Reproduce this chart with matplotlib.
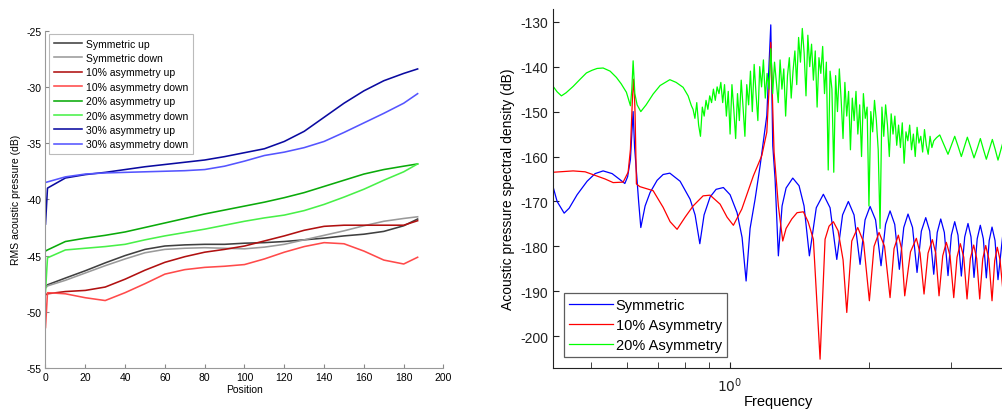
import numpy as np
import matplotlib
matplotlib.use('Agg')
from matplotlib import pyplot as plt
from matplotlib.ticker import FixedLocator, NullFormatter, FixedFormatter

plt.rcParams['font.family'] = ['Liberation Sans', 'DejaVu Sans']
plt.rcParams['axes.unicode_minus'] = False

# ---- left panel: RMS pressure vs position ----
position = [0, 1, 10, 20, 30, 40, 50, 60, 70, 80, 90, 100, 110, 120, 130, 140, 150, 160, 170, 180, 187]

sym_up = [-47.8, -47.6, -47.0, -46.35, -45.65, -45.0, -44.45, -44.15, -44.05, -44.0, -44.0,
          -43.9, -43.85, -43.75, -43.6, -43.45, -43.25, -43.1, -42.85, -42.35, -41.75]
sym_down = [-47.9, -47.7, -47.2, -46.55, -45.9, -45.3, -44.75, -44.45, -44.35, -44.3, -44.35,
            -44.4, -44.25, -44.0, -43.6, -43.2, -42.8, -42.35, -41.95, -41.7, -41.55]
asym10_up = [-48.5, -48.4, -48.2, -48.1, -47.8, -47.1, -46.3, -45.6, -45.1, -44.7, -44.45,
             -44.15, -43.7, -43.25, -42.75, -42.4, -42.3, -42.3, -42.3, -42.3, -41.9]
asym10_down = [-51.4, -48.3, -48.4, -48.75, -49.0, -48.3, -47.5, -46.65, -46.25, -46.05, -45.95,
               -45.8, -45.3, -44.7, -44.2, -43.85, -43.95, -44.6, -45.4, -45.75, -45.15]
asym20_up = [-44.6, -44.5, -43.75, -43.45, -43.2, -42.9, -42.5, -42.1, -41.7, -41.3, -40.95,
             -40.6, -40.25, -39.85, -39.4, -38.85, -38.3, -37.75, -37.35, -37.05, -36.85]
asym20_down = [-48.2, -45.2, -44.5, -44.35, -44.2, -44.0, -43.6, -43.25, -42.95, -42.65, -42.3,
               -41.95, -41.65, -41.4, -41.0, -40.45, -39.8, -39.1, -38.3, -37.55, -36.85]
asym30_up = [-42.2, -39.0, -38.1, -37.8, -37.6, -37.35, -37.1, -36.9, -36.7, -36.5, -36.2,
             -35.85, -35.5, -34.85, -33.95, -32.7, -31.45, -30.35, -29.45, -28.8, -28.4]
asym30_down = [-38.5, -38.45, -38.0, -37.75, -37.65, -37.6, -37.55, -37.5, -37.45, -37.35, -37.05,
               -36.6, -36.1, -35.8, -35.4, -34.85, -34.05, -33.2, -32.35, -31.45, -30.6]

left_labels = ['Symmetric up', 'Symmetric down', '10% asymmetry up', '10% asymmetry down',
               '20% asymmetry up', '20% asymmetry down', '30% asymmetry up', '30% asymmetry down']
left_colors = ['#404040', '#9a9a9a', '#b01010', '#ff4a4a', '#0aaa0a', '#48f048', '#0a0aa0', '#5555ff']

# ---- right panel: spectral density, x given as log10(frequency) ----
sym_logf = [-0.3823, -0.3737, -0.3585, -0.3477, -0.3305, -0.3089, -0.2916, -0.2743, -0.2549, -0.2397,
            -0.2274, -0.2214, -0.2153, -0.2123, -0.2095, -0.2063, -0.2019, -0.1976, -0.1929, -0.1836,
            -0.1728, -0.1577, -0.1447, -0.1302, -0.1080, -0.0864, -0.0756, -0.0654, -0.0562, -0.0432,
            -0.0302, -0.0145, 0.0, 0.0151, 0.0259, 0.0346, 0.0432, 0.0540, 0.0648, 0.0793,
            0.0879, 0.0922, 0.0972, 0.1043, 0.1123, 0.1210, 0.1354, 0.1490, 0.1598, 0.1713,
            0.1862, 0.2015, 0.2160, 0.2305, 0.2430, 0.2555, 0.2678, 0.2808, 0.2916, 0.3024,
            0.3143, 0.3261, 0.3359, 0.3456, 0.3557, 0.3657, 0.3752, 0.3844, 0.3942, 0.4039,
            0.4132, 0.4227, 0.4313, 0.4400, 0.4475, 0.4551, 0.4629, 0.4708, 0.4780, 0.4853,
            0.4924, 0.4996, 0.5069, 0.5140, 0.5205, 0.5270, 0.5339, 0.5406, 0.5471, 0.5536,
            0.5598, 0.5659, 0.5724, 0.5788, 0.5896]
sym_db = [-166.8, -170.0, -172.6, -171.5, -168.5, -165.5, -163.8, -163.2, -163.8, -165.0,
          -166.0, -164.5, -160.6, -155.0, -150.0, -158.0, -164.0, -170.0, -175.8, -171.0,
          -168.0, -165.3, -164.0, -163.7, -165.5, -169.5, -173.0, -179.4, -173.0, -169.0,
          -167.3, -166.9, -168.5, -172.5, -178.0, -187.7, -176.0, -169.5, -162.1, -150.9,
          -130.7, -157.6, -165.0, -182.1, -171.0, -167.0, -164.8, -166.5, -171.0, -182.1,
          -171.4, -168.4, -171.4, -182.9, -173.0, -170.0, -173.0, -184.0, -174.1, -171.1,
          -174.1, -184.3, -175.1, -172.1, -175.1, -185.1, -175.8, -172.8, -175.8, -185.8,
          -176.6, -173.6, -176.6, -186.2, -176.9, -173.9, -176.9, -186.5, -177.5, -174.5,
          -177.5, -186.6, -177.9, -174.9, -177.9, -186.9, -178.3, -175.3, -178.3, -187.0,
          -178.7, -175.7, -178.7, -187.4, -177.0]

a10_logf = [-0.3823, -0.3391, -0.3132, -0.2888, -0.2700, -0.2527, -0.2311, -0.2203, -0.2153, -0.2110,
            -0.2088, -0.2067, -0.2052, -0.2024, -0.1950, -0.1663, -0.1447, -0.1296, -0.1145, -0.0972,
            -0.0799, -0.0583, -0.0432, -0.0216, -0.0065, 0.0071, 0.0253, 0.0503, 0.0685, 0.0793,
            0.0849, 0.0879, 0.0922, 0.0950, 0.1043, 0.1138, 0.1210, 0.1333, 0.1447, 0.1583,
            0.1685, 0.1799, 0.1944, 0.2052, 0.2138, 0.2231, 0.2333, 0.2441, 0.2521, 0.2629,
            0.2758, 0.2883, 0.3009, 0.3110, 0.3218, 0.3337, 0.3456, 0.3542, 0.3635, 0.3704,
            0.3773, 0.3898, 0.4024, 0.4104, 0.4190, 0.4277, 0.4370, 0.4443, 0.4514, 0.4594,
            0.4672, 0.4752, 0.4832, 0.4903, 0.4974, 0.5048, 0.5119, 0.5190, 0.5263, 0.5328,
            0.5393, 0.5458, 0.5523, 0.5590, 0.5659, 0.5717, 0.5773, 0.5832, 0.5896]
a10_db = [-163.5, -163.2, -163.4, -164.3, -165.0, -165.8, -165.7, -163.5, -158.4, -147.2,
          -142.8, -146.0, -150.9, -166.1, -166.7, -167.6, -171.3, -174.5, -176.2, -173.5,
          -171.0, -168.75, -168.6, -170.6, -173.5, -175.3, -171.7, -164.3, -159.8, -154.6,
          -143.5, -134.6, -149.4, -159.0, -171.0, -178.8, -176.0, -173.9, -172.5, -172.3,
          -174.5, -178.4, -205.1, -178.4, -175.5, -174.5, -176.5, -183.0, -194.7, -178.8,
          -175.8, -179.0, -192.1, -180.0, -176.9, -180.0, -191.4, -180.5, -177.5, -180.5,
          -191.0, -181.2, -178.2, -181.5, -190.6, -181.5, -178.5, -181.5, -191.0, -182.1,
          -179.1, -182.1, -191.4, -182.4, -179.4, -182.4, -191.7, -182.7, -179.7, -182.7,
          -191.7, -182.8, -179.8, -182.8, -192.1, -183.2, -180.2, -183.0, -190.0]

a20_logf = [-0.3823, -0.3737, -0.3644, -0.3542, -0.3391, -0.3240, -0.3104, -0.2981, -0.2873, -0.2743,
            -0.2592, -0.2456, -0.2354, -0.2240, -0.2153, -0.2123, -0.2095, -0.2073, -0.2058, -0.2009,
            -0.1929, -0.1814, -0.1663, -0.1512, -0.1302, -0.1166, -0.1015, -0.0907, -0.0836,
            -0.080, -0.076, -0.072, -0.068, -0.064, -0.060, -0.056, -0.052, -0.048, -0.044,
            -0.040, -0.036, -0.032, -0.028, -0.024, -0.020, -0.016, -0.012, -0.008, -0.004,
            0.000, 0.004, 0.008, 0.012, 0.016, 0.020, 0.024, 0.028, 0.032, 0.036,
            0.040, 0.044, 0.048, 0.052, 0.056, 0.060, 0.064, 0.068, 0.072, 0.076,
            0.080, 0.084, 0.088, 0.092, 0.096, 0.100, 0.104, 0.108, 0.112, 0.116,
            0.120, 0.124, 0.128, 0.132, 0.136, 0.140, 0.144, 0.148, 0.152, 0.156,
            0.160, 0.164, 0.168, 0.172, 0.176, 0.180, 0.184, 0.188, 0.192, 0.196,
            0.200, 0.204, 0.208, 0.212, 0.216, 0.220, 0.224, 0.228, 0.232, 0.236,
            0.240, 0.244, 0.248, 0.252, 0.256, 0.260, 0.264, 0.268, 0.272, 0.276,
            0.280, 0.284, 0.288, 0.292, 0.296, 0.300, 0.304, 0.308, 0.312, 0.316,
            0.320, 0.324, 0.328, 0.332, 0.336, 0.340, 0.344, 0.348, 0.352, 0.356,
            0.360, 0.364, 0.368, 0.372, 0.376, 0.380, 0.384, 0.388, 0.392, 0.396,
            0.400, 0.404, 0.408, 0.412, 0.416, 0.420, 0.424, 0.428, 0.432, 0.436,
            0.440, 0.446, 0.453, 0.462, 0.4708, 0.478, 0.4853, 0.4925, 0.4996, 0.506,
            0.5126, 0.520, 0.527, 0.534, 0.5407, 0.547, 0.5536, 0.560, 0.5666, 0.573,
            0.5788, 0.5896]
a20_db = [-144.4, -145.6, -146.5, -145.8, -144.4, -142.8, -141.4, -140.8, -140.4, -140.3,
          -141.0, -142.4, -143.8, -145.7, -148.7, -145.0, -138.7, -143.0, -146.0, -148.5,
          -150.0, -148.5, -146.1, -144.2, -142.9, -143.5, -144.6, -146.5, -148.7,
          -149.5, -151.5, -148.0, -153.0, -155.5, -149.0, -151.0, -147.5, -149.5, -146.5,
          -148.0, -145.0, -147.5, -144.5, -146.0, -143.5, -148.0, -144.0, -151.0, -145.5,
          -155.0, -144.0, -149.5, -156.0, -146.0, -152.0, -143.0, -149.0, -155.5, -144.0,
          -148.5, -141.0, -150.0, -139.5, -146.0, -152.0, -140.0, -144.5, -138.5, -147.0,
          -141.5, -145.0, -136.0, -146.0, -139.0, -143.5, -148.0, -138.5, -145.0, -140.5,
          -151.0, -142.0, -138.0, -147.0, -141.0, -136.5, -144.0, -133.5, -139.0, -131.5,
          -137.0, -146.5, -133.0, -140.0, -135.0, -143.0, -136.5, -149.0, -138.0, -141.5,
          -135.5, -146.0, -139.0, -163.0, -141.0, -145.0, -163.5, -142.0, -150.0, -140.5,
          -147.5, -156.0, -143.5, -151.0, -145.5, -158.5, -147.0, -152.0, -145.5, -155.0,
          -148.5, -160.0, -146.0, -151.5, -149.0, -171.0, -150.0, -154.5, -147.5, -152.0,
          -158.5, -176.0, -149.0, -155.5, -148.5, -153.0, -160.0, -150.5, -155.0, -151.0,
          -157.5, -153.0, -158.0, -152.5, -161.5, -154.5, -156.5, -153.0, -158.5, -155.0,
          -160.0, -153.5, -157.0, -155.5, -159.0, -154.0, -157.5, -159.5, -155.5, -158.0,
          -156.5, -155.8, -155.2, -157.4, -159.5, -157.5, -155.5, -157.7, -160.0, -157.9,
          -155.7, -158.0, -160.3, -158.2, -156.0, -158.3, -160.6, -158.4, -156.2, -158.5,
          -160.8, -156.8]

fig = plt.figure(figsize=(10.03, 4.10), dpi=100)

# left axes
ax1 = fig.add_axes([45.5 / 1003, 1 - 369 / 410, 398 / 1003, 337.3 / 410])
series = [sym_up, sym_down, asym10_up, asym10_down, asym20_up, asym20_down, asym30_up, asym30_down]
for vals, lab, col in zip(series, left_labels, left_colors):
    ax1.plot(position, vals, color=col, lw=1.15, label=lab)
ax1.set_xlim(0, 200)
ax1.set_ylim(-55, -25)
ax1.set_xticks(range(0, 201, 20))
ax1.set_yticks(range(-55, -24, 5))
ax1.tick_params(direction='in', length=3, labelsize=7.5, colors='#888888', labelcolor='black', pad=3)
for s in ['top', 'right']:
    ax1.spines[s].set_visible(False)
for s in ['left', 'bottom']:
    ax1.spines[s].set_color('#999999')
ax1.set_xlabel('Position', fontsize=7.5, labelpad=1)
ax1.set_ylabel('RMS acoustic pressure (dB)', fontsize=7.5, labelpad=4)
leg1 = ax1.legend(loc='upper left', bbox_to_anchor=(49 / 1003, 1 - 35 / 410),
                  bbox_transform=fig.transFigure, fontsize=7.5, frameon=True, fancybox=False,
                  handlelength=2.7, handletextpad=0.4, labelspacing=0.42, borderpad=0.45,
                  borderaxespad=0)
leg1.get_frame().set_edgecolor('#aaaaaa')
leg1.get_frame().set_linewidth(0.8)

# right axes
ax2 = fig.add_axes([553.3 / 1003, 1 - 369 / 410, 449.7 / 1003, 359 / 410])
ax2.plot(10 ** np.array(sym_logf), sym_db, color='#0000ff', lw=0.9, label='Symmetric')
ax2.plot(10 ** np.array(a10_logf), a10_db, color='#ff0000', lw=0.9, label='10% Asymmetry')
ax2.plot(10 ** np.array(a20_logf), a20_db, color='#00ff00', lw=0.9, label='20% Asymmetry')
ax2.set_xscale('log')
ax2.set_xlim(0.415, 3.887)
ax2.set_ylim(-207.06, -127.17)
ax2.set_yticks(range(-200, -129, 10))
ax2.xaxis.set_major_locator(FixedLocator([1.0]))
ax2.xaxis.set_major_formatter(FixedFormatter(['$10^0$']))
ax2.xaxis.set_minor_locator(FixedLocator([0.5, 0.6, 0.7, 0.8, 0.9, 2, 3]))
ax2.xaxis.set_minor_formatter(NullFormatter())
ax2.tick_params(which='both', direction='in', labelsize=10, colors='#222222', labelcolor='#222222')
ax2.tick_params(which='major', length=4)
ax2.tick_params(axis='x', which='major', pad=5)
ax2.tick_params(which='minor', length=4)
for s in ['top', 'right']:
    ax2.spines[s].set_visible(False)
for s in ['left', 'bottom']:
    ax2.spines[s].set_color('#222222')
ax2.set_xlabel('Frequency', fontsize=10.5, labelpad=0)
ax2.set_ylabel('Acoustic pressure spectral density (dB)', fontsize=10, labelpad=4)
leg2 = ax2.legend(loc='upper left', bbox_to_anchor=(564 / 1003, 1 - 294 / 410),
                  bbox_transform=fig.transFigure, fontsize=10.5, frameon=True, fancybox=False,
                  handlelength=3.0, handletextpad=0.2, labelspacing=0.4, borderpad=0.35,
                  borderaxespad=0)
leg2.get_frame().set_edgecolor('#333333')
leg2.get_frame().set_linewidth(0.9)

fig.savefig('out.png', dpi=100)
